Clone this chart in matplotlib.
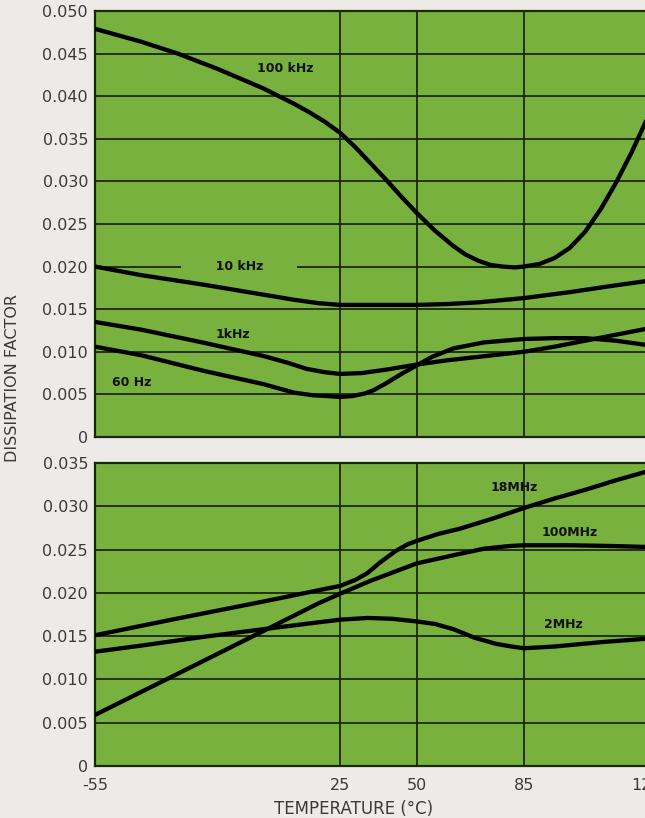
import matplotlib
matplotlib.use("Agg")
import matplotlib.pyplot as plt
import numpy as np

# ---------------- data ----------------
x_ticks = [-55, 25, 50, 85, 125]
x_tick_labels = ["-55", "25", "50", "85", "125"]

# upper panel
t_100k = [-55, -40, -28, -15, 0, 5, 10, 15, 20, 25, 30, 35, 40, 45, 50, 56, 62, 66, 70, 74, 78, 82, 85, 90, 95,
          100, 105, 110, 115, 120, 125]
df_100k = [0.0479, 0.0464, 0.0450, 0.0432, 0.0409, 0.0400, 0.0391, 0.0381, 0.0370, 0.0357, 0.0340, 0.0321, 0.0302,
           0.0282, 0.0263, 0.0242, 0.0224, 0.0214, 0.0207, 0.0202, 0.0200, 0.0199, 0.0200, 0.0203, 0.0210, 0.0222,
           0.0241, 0.0267, 0.0298, 0.0333, 0.0372]

t_10k = [-55, -40, -20, 0, 10, 18, 25, 40, 50, 60, 70, 85, 100, 115, 125]
df_10k = [0.0200, 0.0190, 0.0179, 0.0167, 0.0161, 0.0157, 0.0155, 0.0155, 0.0155, 0.0156, 0.0158, 0.0163, 0.0170, 0.0178, 0.0183]

t_1k = [-55, -40, -20, 0, 8, 14, 20, 25, 32, 40, 50, 60, 70, 85, 95, 105, 115, 125]
df_1k = [0.0135, 0.0126, 0.0111, 0.0095, 0.0087, 0.0080, 0.0076, 0.0074, 0.0075, 0.0079, 0.0085, 0.0090, 0.0094,
         0.0100, 0.0106, 0.0113, 0.0120, 0.0127]

t_60 = [-55, -40, -20, 0, 10, 16, 21, 25, 29, 33, 36, 40, 45, 50, 55, 62, 72, 85, 95, 105, 115, 125]
df_60 = [0.0106, 0.0096, 0.0078, 0.0062, 0.0052, 0.0049, 0.0048, 0.0047, 0.0048, 0.0051, 0.0055, 0.0063, 0.0074,
         0.0084, 0.0094, 0.0104, 0.0111, 0.0115, 0.0116, 0.0116, 0.0113, 0.0108]

# lower panel
t_18M = [-55, -30, 0, 18, 25, 30, 34, 38, 43, 47, 50, 57, 64, 75, 85, 95, 105, 115, 125]
df_18M = [0.0151, 0.0169, 0.0190, 0.0203, 0.0208, 0.0215, 0.0223, 0.0235, 0.0248, 0.0256, 0.0260, 0.0268, 0.0274,
          0.0286, 0.0298, 0.0309, 0.0319, 0.0330, 0.0340]

t_100M = [-55, -30, 0, 18, 25, 35, 50, 64, 72, 80, 85, 100, 115, 125]
df_100M = [0.0059, 0.0103, 0.0156, 0.0188, 0.0199, 0.0214, 0.0234, 0.0245, 0.0251, 0.0254, 0.0255, 0.0255, 0.0254, 0.0253]

t_2M = [-55, -40, -20, 0, 18, 25, 34, 42, 50, 56, 62, 69, 76, 81, 85, 90, 95, 110, 125]
df_2M = [0.0132, 0.0139, 0.0149, 0.0158, 0.0166, 0.0169, 0.0171, 0.0170, 0.0167, 0.0164, 0.0158, 0.0148, 0.0141,
         0.0138, 0.0136, 0.0137, 0.0138, 0.0143, 0.0147]

top_yticks = [0, 0.005, 0.010, 0.015, 0.020, 0.025, 0.030, 0.035, 0.040, 0.045, 0.050]
bot_yticks = [0, 0.005, 0.010, 0.015, 0.020, 0.025, 0.030, 0.035]

# ---------------- style ----------------
GREEN = "#79b13f"
BG = "#ecebe8"
GRID = "#1b2610"
TXT = "#3a3a3a"
LW = 3.1

fig = plt.figure(figsize=(6.45, 8.18), dpi=100, facecolor=BG)
ax1 = fig.add_axes([0.1473, 0.4658, 1.0023 - 0.1473, 0.9866 - 0.4658])
ax2 = fig.add_axes([0.1473, 0.0636, 1.0023 - 0.1473, 0.434 - 0.0636])


def fmt(v):
    return "0" if v == 0 else f"{v:.3f}"


for ax, yt in ((ax1, top_yticks), (ax2, bot_yticks)):
    ax.set_facecolor(GREEN)
    ax.set_xlim(-55, 125)
    ax.set_ylim(0, yt[-1])
    ax.set_xticks(x_ticks)
    ax.set_yticks(yt)
    ax.set_yticklabels([fmt(v) for v in yt], fontsize=11.5, color=TXT)
    ax.tick_params(length=0, pad=5)
    ax.set_axisbelow(True)
    ax.grid(True, color=GRID, lw=1.3)
    for s in ax.spines.values():
        s.set_color(GRID)
        s.set_linewidth(1.6)

ax1.set_xticklabels([])
ax2.set_xticklabels(x_tick_labels, fontsize=11.5, color=TXT)
ax2.tick_params(axis="x", pad=9)

kw = dict(color="black", lw=LW, solid_joinstyle="round", solid_capstyle="round", zorder=3)
ax1.plot(t_100k, df_100k, **kw)
ax1.plot(t_10k, df_10k, **kw)
ax1.plot(t_1k, df_1k, **kw)
ax1.plot(t_60, df_60, **kw)
ax2.plot(t_18M, df_18M, **kw)
ax2.plot(t_100M, df_100M, **kw)
ax2.plot(t_2M, df_2M, **kw)

lab = dict(fontsize=9, fontweight="bold", color="#111111", ha="center", va="center")
ax1.text(7, 0.0432, "100 kHz", **lab)
ax1.text(-8, 0.0200, "       10 kHz       ", zorder=2,
         bbox=dict(boxstyle="square,pad=0.3", fc=GREEN, ec="none"), **lab)
ax1.text(-10, 0.0120, "1kHz", **lab)
ax1.text(-43, 0.0064, "60 Hz", **lab)
ax2.text(82, 0.0322, "18MHz", **lab)
ax2.text(100, 0.0270, "100MHz", **lab)
ax2.text(98, 0.0164, "2MHz", **lab)

fig.text(354 / 645, 1 - 809 / 818, "TEMPERATURE (°C)", fontsize=12, color=TXT,
         ha="center", va="center")
fig.text(13 / 645, 1 - 378 / 818, "DISSIPATION FACTOR", fontsize=11.5, color=TXT,
         ha="center", va="center", rotation=90)

fig.savefig("out.png", dpi=100, facecolor=BG)
